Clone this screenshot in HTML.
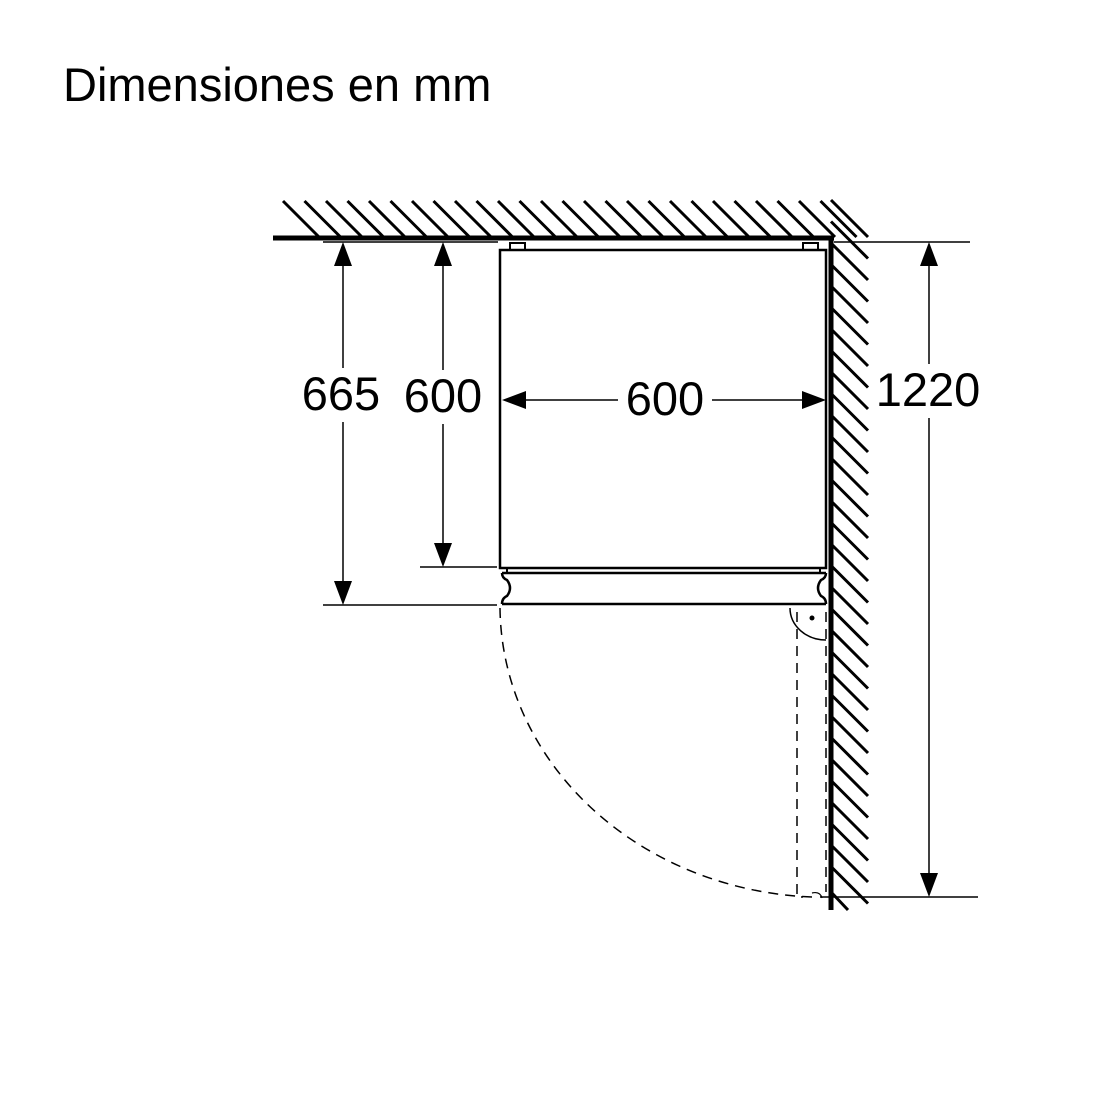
<!DOCTYPE html>
<html><head><meta charset="utf-8"><style>
html,body{margin:0;padding:0;background:#fff;}
svg{display:block;}
text{font-family:"Liberation Sans",sans-serif;fill:#000;}
</style></head><body>
<svg id="s" width="1100" height="1100" viewBox="0 0 1100 1100" xmlns="http://www.w3.org/2000/svg">
<rect width="1100" height="1100" fill="#fff"/>
<text x="63" y="101" font-size="47">Dimensiones en mm</text>
<g id="hatch" stroke="#000" stroke-width="3"></g>
<line x1="273" y1="238" x2="834" y2="238" stroke="#000" stroke-width="5"/>
<line x1="831" y1="236" x2="831" y2="910" stroke="#000" stroke-width="5"/>
<g stroke="#000" fill="none">
<line x1="323" y1="242" x2="498" y2="242" stroke-width="1.5"/>
<line x1="834" y1="242" x2="970" y2="242" stroke-width="1.5"/>
<line x1="420" y1="567" x2="497" y2="567" stroke-width="1.5"/>
<line x1="323" y1="605" x2="497" y2="605" stroke-width="1.5"/>
<line x1="820" y1="897" x2="978" y2="897" stroke-width="1.5"/>
<rect x="500" y="250" width="326" height="318" stroke-width="2.5"/>
<rect x="510" y="243" width="15" height="7" stroke-width="2"/>
<rect x="803" y="243" width="15" height="7" stroke-width="2"/>
<line x1="507" y1="568" x2="507" y2="573" stroke-width="2"/>
<line x1="820" y1="568" x2="820" y2="573" stroke-width="2"/>
<path d="M502 573 H826 M502 604 H826 M502 573 Q502 578 507 580 Q513 588 507 596 Q502 598 502 604 M826 573 Q826 578 821 580 Q815 588 821 596 Q826 598 826 604" stroke-width="2.5"/>
<line x1="343" y1="262" x2="343" y2="368" stroke-width="1.5"/>
<line x1="343" y1="422" x2="343" y2="585" stroke-width="1.5"/>
<line x1="443" y1="262" x2="443" y2="370" stroke-width="1.5"/>
<line x1="443" y1="424" x2="443" y2="547" stroke-width="1.5"/>
<line x1="520" y1="400" x2="618" y2="400" stroke-width="1.5"/>
<line x1="712" y1="400" x2="806" y2="400" stroke-width="1.5"/>
<line x1="929" y1="262" x2="929" y2="364" stroke-width="1.5"/>
<line x1="929" y1="418" x2="929" y2="877" stroke-width="1.5"/>
<path d="M500 608 A326 292 0 0 0 812 897" stroke-width="1.5" stroke-dasharray="10 7"/>
<path d="M797 612 V897 H803" stroke-width="1.5" stroke-dasharray="10 7"/>
<line x1="826" y1="612" x2="826" y2="892" stroke-width="1.5" stroke-dasharray="10 7"/>
<path d="M790 608 A36 32 0 0 0 826 640" stroke-width="1.5"/>
<path d="M812 893 Q820 891 822 898" stroke-width="1.2"/>
</g>
<circle cx="812" cy="618" r="2.5" fill="#000"/>
<g fill="#000">
<polygon points="343,242 334,266 352,266"/>
<polygon points="343,605 334,581 352,581"/>
<polygon points="443,242 434,266 452,266"/>
<polygon points="443,567 434,543 452,543"/>
<polygon points="502,400 526,391 526,409"/>
<polygon points="826,400 802,391 802,409"/>
<polygon points="929,242 920,266 938,266"/>
<polygon points="929,897 920,873 938,873"/>
</g>
<text x="341" y="410" font-size="47" text-anchor="middle">665</text>
<text x="443" y="412" font-size="47" text-anchor="middle">600</text>
<text x="665" y="415" font-size="47" text-anchor="middle">600</text>
<text x="928" y="406" font-size="47" text-anchor="middle">1220</text>
</svg>
<script>
var g=document.getElementById('hatch'),ns='http://www.w3.org/2000/svg';
function L(a,b,c,d){var l=document.createElementNS(ns,'line');l.setAttribute('x1',a);l.setAttribute('y1',b);l.setAttribute('x2',c);l.setAttribute('y2',d);g.appendChild(l);}
for(var x=283;x<=830;x+=21.5){L(x,201,x+36,237);}
for(var y=200;y<=880;y+=21.5){L(831,y,868,y+37);}
L(831,892,848,910);
</script>
</body></html>
